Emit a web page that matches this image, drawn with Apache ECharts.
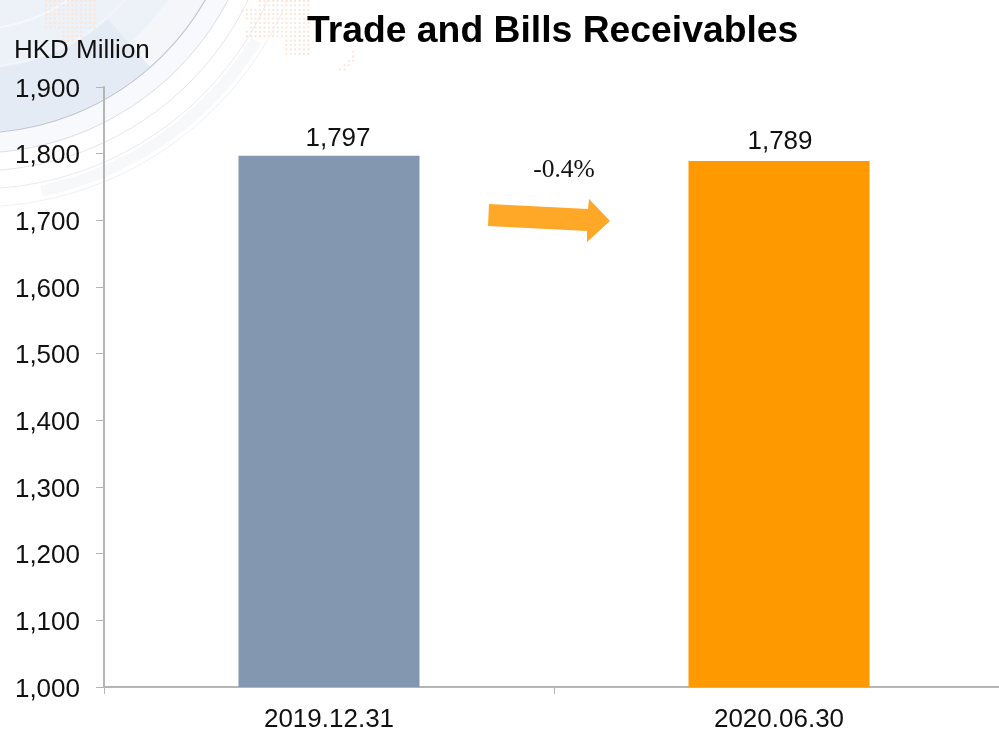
<!DOCTYPE html>
<html>
<head>
<meta charset="utf-8">
<style>html,body{margin:0;padding:0;background:#fff}#chart{width:999px;height:730px}</style>
<script src="https://cdn.jsdelivr.net/npm/echarts@6/dist/echarts.min.js"></script>
</head>
<body>
<div id="chart"></div>
<script>
const chartTitle = 'Trade and Bills Receivables';
const unitLabel = 'HKD Million';
const changeLabel = '-0.4%';
const categories = ['2019.12.31', '2020.06.30'];
const receivables = [1797, 1789];
const barColors = ['#8497B0', '#FF9900'];
const labelOffsets = [[9, 0], [1, -2]];
const FONT = '"Liberation Sans", Arial, sans-serif';

// Decorative backdrop: concentric arcs around a point off the top-left corner
const CX = -24, CY = -131;
function ring(r, stroke, width, z) {
  return { type: 'circle', silent: true, z: z || -8,
    shape: { cx: CX, cy: CY, r: r },
    style: { fill: 'none', stroke: stroke, lineWidth: width } };
}
function band(r0, r, startAngle, endAngle, fill, z) {
  return { type: 'sector', silent: true, z: z || -9,
    shape: { cx: CX, cy: CY, r0: r0, r: r, startAngle: startAngle, endAngle: endAngle },
    style: { fill: fill } };
}
const backdrop = [
  band(0, 264, 0, Math.PI * 2, '#edf1f8', -10),
  band(200, 263, 0.85, 1.62, '#e5ebf4'),
  band(232, 263, 0.2, 0.85, '#f4f6fa'),
  band(264, 284, 0, Math.PI * 2, '#f8f9fc', -10),
  band(323, 334, 0.55, 1.37, '#f7f8fa'),
  ring(264, '#bfc4d4', 1.1),
  ring(284, '#dcdee7', 1),
  ring(302, '#e5e7ed', 1),
  ring(320, '#eaebf0', 1),
  ring(338, '#f0f1f4', 1),
  ring(198, '#f4f6fb', 1.5),
  ring(160, '#f6f8fc', 2)
];

// Dotted map fragments behind the title
function dotPatch(x0, x1, y0, y1, inside) {
  const dots = [];
  for (let x = x0; x <= x1; x += 4.4) {
    for (let y = y0; y <= y1; y += 4.4) {
      if (inside(x, y)) {
        dots.push({ type: 'circle', silent: true, z: -7,
          shape: { cx: x, cy: y, r: 1.1 }, style: { fill: '#fbe5d6' } });
      }
    }
  }
  return dots;
}
const dots = [
  ...dotPatch(46, 96, 1, 42, (x, y) => y < 30 || (x > 60 && x < 82)),
  ...dotPatch(238, 310, 1, 56, (x, y) =>
    (x - 238) + Math.abs(y - 25) * 0.6 > 12 && (y < 40 || x > 284) && !(y < 8 && x < 258)),
  ...dotPatch(340, 356, 52, 72, (x, y) => Math.abs((x - 340) + (y - 72)) < 5 || (x > 350 && y < 62))
];

// Trend arrow between the two bars
const arrow = {
  type: 'polygon', silent: true, z: 10,
  shape: { points: [[489, 204], [588, 209], [589, 199], [610, 221], [587, 242], [587, 231], [488, 226]] },
  style: { fill: '#FFA726' }
};
const changeText = {
  type: 'text', silent: true, z: 10, x: 564, y: 170,
  style: { text: changeLabel, fill: '#111', font: '25.5px "Liberation Serif", "Times New Roman", serif',
    align: 'center', verticalAlign: 'middle' }
};

const chart = echarts.init(document.getElementById('chart'), null, { renderer: 'canvas' });
chart.setOption({
  animation: false,
  backgroundColor: '#fff',
  title: [
    { text: chartTitle, left: 302, top: 8,
      textStyle: { fontFamily: FONT, fontSize: 37.3, fontWeight: 'bold', color: '#000' } },
    { text: unitLabel, left: 9, top: 33,
      textStyle: { fontFamily: FONT, fontSize: 26, fontWeight: 'normal', color: '#111' } }
  ],
  grid: { left: 104, top: 87, width: 900, height: 600, outerBoundsMode: 'none' },
  xAxis: {
    type: 'category',
    data: categories,
    axisLine: { lineStyle: { color: '#b5b5b5', width: 2 } },
    axisTick: { show: true, length: 7, lineStyle: { color: '#b5b5b5', width: 1 } },
    axisLabel: { fontFamily: FONT, fontSize: 26, color: '#111', margin: 20 }
  },
  yAxis: {
    type: 'value',
    min: 1000, max: 1900, interval: 100,
    splitLine: { show: false },
    axisLine: { show: true, lineStyle: { color: '#b5b5b5', width: 2 } },
    axisTick: { show: true, length: 8, lineStyle: { color: '#b5b5b5', width: 1 } },
    axisLabel: { margin: 24,
      formatter: v => '{tick|' + v.toLocaleString('en-US') + '}',
      rich: { tick: { fontFamily: FONT, fontSize: 26, color: '#111', padding: [5, 0, 0, 0] } } }
  },
  series: [{
    type: 'bar',
    barWidth: 181,
    data: receivables.map((v, i) => ({
      value: v,
      itemStyle: { color: barColors[i] },
      label: { offset: labelOffsets[i] }
    })),
    label: { show: true, position: 'top', distance: 4, fontFamily: FONT, fontSize: 26, color: '#111',
      formatter: p => p.value.toLocaleString('en-US') }
  }],
  graphic: [...backdrop, ...dots, arrow, changeText]
});
</script>
</body>
</html>
